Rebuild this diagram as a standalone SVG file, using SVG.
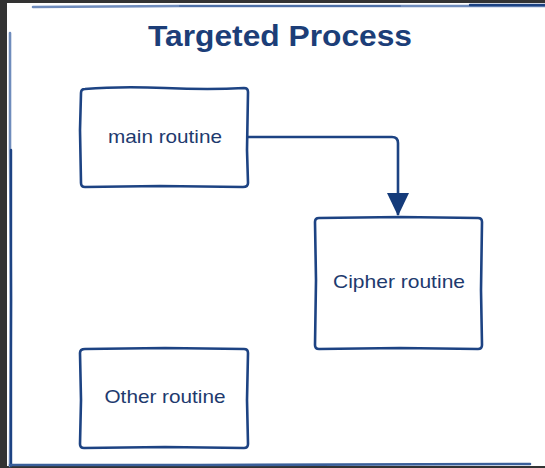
<svg xmlns="http://www.w3.org/2000/svg" width="545" height="468" viewBox="0 0 545 468">
<defs>
<style>
.box{fill:#ffffff;stroke:#1d4383;stroke-width:2.6;stroke-linejoin:round;stroke-linecap:round}
.lbl{font-family:"Liberation Sans",Arial,sans-serif;font-size:18.5px;fill:#1e3a6e;text-anchor:middle}
.title{font-family:"Liberation Sans",Arial,sans-serif;font-size:29px;font-weight:bold;fill:#1c3e78;text-anchor:middle}
.frame{fill:none;stroke-linecap:round}
.conn{fill:none;stroke:#1d4383;stroke-width:2.6;stroke-linejoin:round}
</style>
<marker id="arr" markerWidth="22" markerHeight="24" refX="11" refY="22" orient="0" markerUnits="userSpaceOnUse">
<path d="M0,0 L22,0 L11,23 Z" fill="#153b7a"/>
</marker>
</defs>
<rect x="0" y="0" width="545" height="468" fill="#333333"/>
<rect x="7" y="3" width="538" height="463" fill="#ffffff"/>
<g id="frame">
<path class="frame" d="M33,7 L180,6 L545,6" stroke="#6f8cbc" stroke-width="2.6"/>
<path class="frame" d="M180,6 L400,6" stroke="#3f629c" stroke-width="2" opacity="0.7"/>
<path class="frame" d="M470,5 L545,5" stroke="#1d4383" stroke-width="2.4"/>
<path class="frame" d="M10,33 L10,150 L11,300 L10,466" stroke="#6f8cbc" stroke-width="2.6"/>
<path class="frame" d="M11,150 L11,466" stroke="#1d4383" stroke-width="2.4"/>
<path class="frame" d="M10,465 L200,465 L530,464" stroke="#3a5f9a" stroke-width="2.6"/>
</g>
<g id="title">
<text class="title" x="280" y="46" textLength="264" lengthAdjust="spacingAndGlyphs">Targeted Process</text>
</g>
<g id="connectors">
<path class="conn" d="M248,137 L300,137 L392,137 Q398,137 398,143 L398,215" marker-end="url(#arr)"/>
</g>
<g id="main-routine">
<path class="box" d="M85,89 Q120,86 165,88 T244,88 Q248,88 248,92 L247,150 L248,183 Q248,187 243,187 L160,186 L85,187 Q81,187 81,183 L80,130 L81,93 Q81,89 85,89 Z"/>
<text class="lbl" x="165" y="143" textLength="114" lengthAdjust="spacingAndGlyphs">main routine</text>
</g>
<g id="cipher-routine">
<path class="box" d="M319,218 L400,217 L478,218 Q482,218 482,222 L481,290 L482,345 Q482,349 478,349 L400,348 L319,349 Q315,349 315,345 L316,280 L315,222 Q315,218 319,218 Z"/>
<text class="lbl" x="399" y="288" textLength="132" lengthAdjust="spacingAndGlyphs">Cipher routine</text>
</g>
<g id="other-routine">
<path class="box" d="M85,349 L165,348 L244,349 Q248,349 248,353 L247,400 L248,444 Q248,448 244,448 L165,447 L84,448 Q80,448 80,444 L81,400 L80,353 Q80,349 85,349 Z"/>
<text class="lbl" x="165" y="403" textLength="121" lengthAdjust="spacingAndGlyphs">Other routine</text>
</g>
</svg>
